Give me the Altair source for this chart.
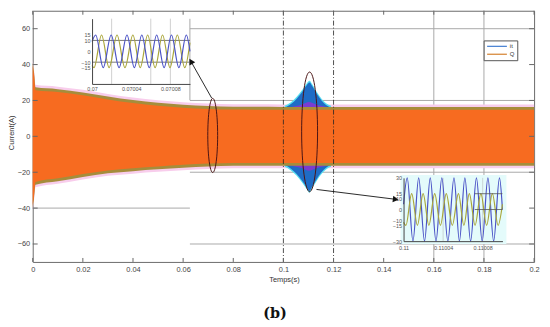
import altair as alt
import pandas as pd

# ---------------- data ----------------
x_ticks = [0, 0.02, 0.04, 0.06, 0.08, 0.1, 0.12, 0.14, 0.16, 0.18, 0.2]
y_ticks = [-60, -40, -20, 0, 20, 40, 60]

# envelope of the Q band (main plot)
band_t = [0, 0.0005, 0.0011, 0.01, 0.02, 0.03, 0.04, 0.05, 0.06, 0.07, 0.08, 0.1, 0.2]
band_hi = [41, 36, 27.3, 26.3, 24.5, 22.2, 20.2, 18.7, 17.6, 16.9, 16.5, 16.4, 16.4]
band_lo = [-40, -35, -27, -25, -22.6, -20.6, -19.4, -18.4, -17.5, -16.8, -16.4, -16.4, -16.4]

# envelope of the it burst between 0.1 and 0.12
bell_t = [0.1005, 0.1030, 0.1053, 0.1073, 0.1093, 0.1104, 0.1115, 0.1132, 0.1152, 0.1170, 0.1190]
bell_hi = [16, 18, 21, 24.5, 28.5, 30, 28, 24, 20, 17.5, 16]
bell_lo = [-16, -18, -21, -24.5, -28.5, -30.5, -28, -24, -20, -17.5, -16]

purple_t = [0.1020, 0.1045, 0.1075, 0.1102, 0.1130, 0.1160, 0.1180]
purple_hi = [16, 16.8, 17.8, 19.2, 17.8, 16.8, 16]
purple_lo = [-16, -16.8, -17.8, -19.2, -17.8, -16.8, -16]

grid_right_y = [60, 20, -20, -60]
grid_left_y = [-40]
gray_x = [0.16, 0.18]
marker_x = [0.1, 0.12]

legend_names = ["it", "Q"]
legend_colors = ["#4f86d4", "#d88a3c"]
caption = ["(b)"]

# inset 1 (0.07 .. 0.0701)
in1_x_ticks = [0.07, 0.07004, 0.07008]
in1_y_ticks = [-15, -10, 0, 10, 15]
in1_blue_t = [0.07, 0.0700037, 0.0700114, 0.0700195, 0.0700276, 0.0700357, 0.0700432,
              0.0700508, 0.0700584, 0.070066, 0.0700736, 0.0700811, 0.0700887, 0.0700963, 0.0701]
in1_blue_v = [9, 15, -15, 15, -15, 15, -15, 15, -15, 15, -15, 15, -15, 15, 0]
in1_olive_t = [0.07, 0.070002, 0.0700097, 0.0700174, 0.0700255, 0.0700336, 0.0700417, 0.0700492,
               0.0700568, 0.0700644, 0.070072, 0.0700796, 0.0700871, 0.0700947, 0.0701]
in1_olive_v = [-13, -15, 15, -15, 15, -15, 15, -15, 15, -15, 15, -15, 15, -15, 8]
in1_hlines = [10, -10]
in1_vlines = [0.07002, 0.07006, 0.07008]

# inset 2 (0.11 .. 0.1101)
in2_x_ticks = [0.11, 0.11004, 0.11008]
in2_y_ticks = [-30, -15, -10, 0, 10, 15, 30]
in2_blue_t = [0.11, 0.1100037, 0.1100095, 0.1100153, 0.1100212, 0.110027, 0.1100328, 0.1100387,
              0.1100448, 0.110051, 0.1100565, 0.110062, 0.1100678, 0.1100737, 0.1100795,
              0.1100853, 0.1100911, 0.110097, 0.1101]
in2_blue_v = [5, 30, -30, 30, -30, 30, -30, 30, -30, 30, -30, 30, -30, 30, -30, 30, -30, 30, 0]
in2_olive_t = [0.11, 0.1100024, 0.1100082, 0.110014, 0.1100198, 0.1100256, 0.1100315, 0.1100373,
               0.1100432, 0.1100493, 0.1100555, 0.110061, 0.1100665, 0.1100723, 0.1100782,
               0.110084, 0.1100898, 0.1100956, 0.1101]
in2_olive_v = [-12, -15, 15, -15, 15, -15, 15, -15, 15, -15, 15, -15, 15, -15, 15, -15, 15, -15, 5]
in2_hlines = [15, 0]
in2_vlines = [0.11004, 0.11008]

# ---------------- layout / style ----------------
W, H = 507, 254
FONT = "Liberation Sans"
ORANGE = "#f76b20"
OLIVE_EDGE = "#a58d3c"
PINK = "#f8cdec"
BLUE = "#1f6cc6"
CYAN = "#55def0"
PURPLE = "#7a3cd0"
W_BLUE = "#4a52c6"
W_OLIVE = "#aaa63a"
ELL = "#4a1414"
ELLIPSE_PATH = "M0,-1A0.133,1,0,1,1,0,1A0.133,1,0,1,1,0,-1Z"
LEGEND_LINE = "M-1,0H7"

xs = alt.Scale(domain=[0, 0.2], nice=False, zero=False)
ys = alt.Scale(domain=[-70, 70], nice=False, zero=False)
xaxis = alt.Axis(values=x_ticks, format="~g", title="Temps(s)", grid=False, ticks=False,
                 domain=False, labelFontSize=7.5, labelColor="#454545", labelPadding=4,
                 labelFlush=False, titleFontSize=7.5, titleFontWeight="normal",
                 titleColor="#333333", titleX=254, titleY=18, titleBaseline="middle")
yaxis = alt.Axis(values=y_ticks, title="Current(A)", grid=False, ticks=False, domain=False,
                 labelFontSize=7.5, labelColor="#454545", labelPadding=3,
                 titleFontSize=7.5, titleFontWeight="normal", titleColor="#333333",
                 titleX=-25, titleY=123, titleAngle=270, titleBaseline="top")


def MX(f):
    return alt.X(f, type="quantitative", scale=xs, axis=xaxis)


def MY(f):
    return alt.Y(f, type="quantitative", scale=ys, axis=yaxis)


band = pd.DataFrame({"x": band_t, "hi": band_hi, "lo": band_lo})
bell = pd.DataFrame({"x": bell_t, "hi": bell_hi, "lo": bell_lo})
purple = pd.DataFrame({"x": purple_t, "hi": purple_hi, "lo": purple_lo})

grid_segments = pd.DataFrame({
    "y": grid_right_y + grid_left_y,
    "x0": [0.0627] * len(grid_right_y) + [0] * len(grid_left_y),
    "x1": [0.2] * len(grid_right_y) + [0.0627] * len(grid_left_y),
})
g_h = alt.Chart(grid_segments).mark_rule(color="#a9a9a9", strokeWidth=1).encode(
    x=MX("x0"), x2="x1", y=MY("y"))
g_v = alt.Chart(pd.DataFrame({"x": gray_x})).mark_rule(color="#a9a9a9", strokeWidth=1).encode(
    x=MX("x"))
g_seg = alt.Chart(pd.DataFrame({"x": [0.0627], "y0": [20.2], "y1": [65.5]})).mark_rule(
    color="#a9a9a9", strokeWidth=1).encode(x=MX("x"), y=MY("y0"), y2="y1")

pink = alt.Chart(band).transform_calculate(h="datum.hi + 1.4", l="datum.lo - 1.4").mark_area(
    color=PINK, interpolate="monotone").encode(x=MX("x"), y=MY("h:Q"), y2="l:Q")
cyan = alt.Chart(bell).transform_calculate(h="datum.hi + 1.0", l="datum.lo - 1.0").mark_area(
    color=CYAN, interpolate="monotone").encode(x=MX("x"), y=MY("h:Q"), y2="l:Q")
blue = alt.Chart(bell).mark_area(color=BLUE, interpolate="monotone").encode(
    x=MX("x"), y=MY("hi"), y2="lo")
purp = alt.Chart(purple).mark_area(color=PURPLE, interpolate="monotone").encode(
    x=MX("x"), y=MY("hi"), y2="lo")
olive = alt.Chart(band).mark_area(color=OLIVE_EDGE, interpolate="monotone").encode(
    x=MX("x"), y=MY("hi"), y2="lo")
orange = alt.Chart(band).transform_calculate(h="datum.hi - 1.6", l="datum.lo + 1.6").mark_area(
    color=ORANGE, interpolate="monotone").encode(x=MX("x"), y=MY("h:Q"), y2="l:Q")

dashdot = alt.Chart(pd.DataFrame({"x": marker_x})).mark_rule(
    color="#222222", strokeWidth=0.8, strokeDash=[5, 2, 1, 2]).encode(x=MX("x"))

yt = pd.DataFrame({"v": y_ticks})
xt = pd.DataFrame({"v": x_ticks})
tick_style = dict(color="#666666", strokeWidth=1)
t_left = alt.Chart(yt).mark_rule(**tick_style).encode(y=MY("v"), x=alt.value(0), x2=alt.value(5))
t_right = alt.Chart(yt).mark_rule(**tick_style).encode(y=MY("v"), x=alt.value(W - 5), x2=alt.value(W))
t_bot = alt.Chart(xt).mark_rule(**tick_style).encode(x=MX("v"), y=alt.value(H - 4), y2=alt.value(H))
t_top = alt.Chart(xt).mark_rule(**tick_style).encode(x=MX("v"), y=alt.value(0), y2=alt.value(4))

ell1 = alt.Chart(pd.DataFrame({"x": [0.0718], "y": [0.5]})).mark_point(
    shape=ELLIPSE_PATH, size=5625, filled=False, color=ELL, strokeWidth=1, opacity=1).encode(
    x=MX("x"), y=MY("y"))
ell2 = alt.Chart(pd.DataFrame({"x": [0.11045], "y": [2.5]})).mark_point(
    shape=ELLIPSE_PATH, size=14641, filled=False, color=ELL, strokeWidth=1, opacity=1).encode(
    x=MX("x"), y=MY("y"))

arrows = pd.DataFrame({"x": [0.0714, 0.1132], "y": [21.3, -29.6],
                       "x2": [0.0631, 0.1448], "y2": [41.8, -35.1]})
arr = alt.Chart(arrows).mark_rule(color="#111111", strokeWidth=0.9).encode(
    x=MX("x"), y=MY("y"), x2="x2", y2="y2")
head1 = alt.Chart(arrows.iloc[[0]]).mark_point(
    shape="triangle-up", filled=True, size=45, color="#111111", opacity=1, angle=330).encode(
    x=MX("x2"), y=MY("y2"))
head2 = alt.Chart(arrows.iloc[[1]]).mark_point(
    shape="triangle-up", filled=True, size=45, color="#111111", opacity=1, angle=97).encode(
    x=MX("x2"), y=MY("y2"))

leg = alt.Chart(pd.DataFrame({"s": legend_names})).mark_rule(opacity=0).encode(
    x=alt.value(0), x2=alt.value(1), y=alt.value(0),
    color=alt.Color("s:N", scale=alt.Scale(domain=legend_names, range=legend_colors),
                    legend=alt.Legend(orient="none", legendX=456, legendY=30, title=None,
                                      symbolType=LEGEND_LINE, symbolSize=25,
                                      symbolStrokeWidth=1.3, symbolOpacity=1,
                                      labelFontSize=6, labelColor="#333333", padding=2.5,
                                      strokeColor="#555555", fillColor="white",
                                      labelOffset=17, rowPadding=1, cornerRadius=0)))

cap = alt.Chart(pd.DataFrame({"c": caption})).mark_text(
    font="DejaVu Serif", fontWeight="bold", fontSize=14.5, color="#111111",
    align="center", baseline="middle").encode(text="c:N", x=alt.value(245), y=alt.value(307))

main = alt.layer(g_h, g_v, g_seg, pink, cyan, blue, purp, olive, orange, dashdot,
                 t_left, t_right, t_bot, t_top, ell1, ell2, arr, head1, head2, leg, cap)

# ---------------- inset 1 ----------------
x1s = alt.Scale(domain=[0.07, 0.0701], range=[60, 159], nice=False, zero=False)
y1s = alt.Scale(domain=[-30, 30], range=[74, 8], nice=False, zero=False)
in_lab = dict(grid=False, ticks=False, title=None, labelFontSize=5.5, labelColor="#555555",
              labelFlush=False, labelOverlap=False, domainColor="#444444", zindex=2)
x1axis = alt.Axis(orient="bottom", offset=-180, values=in1_x_ticks, format="~g",
                  labelPadding=3, **in_lab)
y1axis = alt.Axis(orient="left", offset=-60, values=in1_y_ticks, labelPadding=2, **in_lab)


def X1(f):
    return alt.X(f, type="quantitative", scale=x1s, axis=x1axis)


def Y1(f):
    return alt.Y(f, type="quantitative", scale=y1s, axis=y1axis)


i1_v = alt.Chart(pd.DataFrame({"x": in1_vlines, "y0": [-30] * 3, "y1": [30] * 3})).mark_rule(
    color="#cfcfcf", strokeWidth=1).encode(x=X1("x"), y=Y1("y0"), y2="y1")
i1_h = alt.Chart(pd.DataFrame({"y": in1_hlines, "x0": [0.07] * 2, "x1": [0.0701] * 2})).mark_rule(
    color="#555555", strokeWidth=0.8).encode(y=Y1("y"), x=X1("x0"), x2="x1")
i1_o = alt.Chart(pd.DataFrame({"t": in1_olive_t, "v": in1_olive_v})).mark_line(
    color=W_OLIVE, strokeWidth=1.2, interpolate="monotone").encode(x=X1("t"), y=Y1("v"))
i1_b = alt.Chart(pd.DataFrame({"t": in1_blue_t, "v": in1_blue_v})).mark_line(
    color=W_BLUE, strokeWidth=1.2, interpolate="monotone").encode(x=X1("t"), y=Y1("v"))
ins1 = alt.layer(i1_v, i1_h, i1_o, i1_b)

# ---------------- inset 2 ----------------
x2s = alt.Scale(domain=[0.11, 0.1101], range=[375, 475], nice=False, zero=False)
y2s = alt.Scale(domain=[-30, 30], range=[233, 169], nice=False, zero=False)
x2axis = alt.Axis(orient="bottom", offset=-21, values=in2_x_ticks, format="~g",
                  labelPadding=4, **in_lab)
y2axis = alt.Axis(orient="left", offset=-375, values=in2_y_ticks, labelPadding=2, **in_lab)


def X2(f):
    return alt.X(f, type="quantitative", scale=x2s, axis=x2axis)


def Y2(f):
    return alt.Y(f, type="quantitative", scale=y2s, axis=y2axis)


i2_bg = alt.Chart(pd.DataFrame({"x0": [0.109997], "x1": [0.110104], "y0": [-32.8], "y1": [32.8]})).mark_rect(
    color="#e4fbfb").encode(x=X2("x0"), x2="x1", y=Y2("y0"), y2="y1")
i2_v = alt.Chart(pd.DataFrame({"x": in2_vlines, "y0": [-30] * 2, "y1": [30] * 2})).mark_rule(
    color="#c8d4d4", strokeWidth=1).encode(x=X2("x"), y=Y2("y0"), y2="y1")
i2_b = alt.Chart(pd.DataFrame({"t": in2_blue_t, "v": in2_blue_v})).mark_line(
    color=W_BLUE, strokeWidth=1.2, interpolate="monotone").encode(x=X2("t"), y=Y2("v"))
i2_o = alt.Chart(pd.DataFrame({"t": in2_olive_t, "v": in2_olive_v})).mark_line(
    color=W_OLIVE, strokeWidth=1.2, interpolate="monotone").encode(x=X2("t"), y=Y2("v"))
i2_h = alt.Chart(pd.DataFrame({"y": in2_hlines, "x0": [0.110072] * 2, "x1": [0.1101] * 2})).mark_rule(
    color="#555555", strokeWidth=0.8).encode(y=Y2("y"), x=X2("x0"), x2="x1")
ins2 = alt.layer(i2_bg, i2_v, i2_b, i2_o, i2_h)

chart = alt.layer(main, ins1, ins2).resolve_scale(
    x="independent", y="independent", color="independent"
).properties(
    width=W, height=H,
    padding={"left": 25, "top": 1, "right": 8, "bottom": 62},
    autosize=alt.AutoSizeParams(type="none"),
).configure(font=FONT).configure_view(stroke="#6a6a6a", strokeWidth=1)

chart.save("out.html", embed_options={"renderer": "svg", "actions": False})
